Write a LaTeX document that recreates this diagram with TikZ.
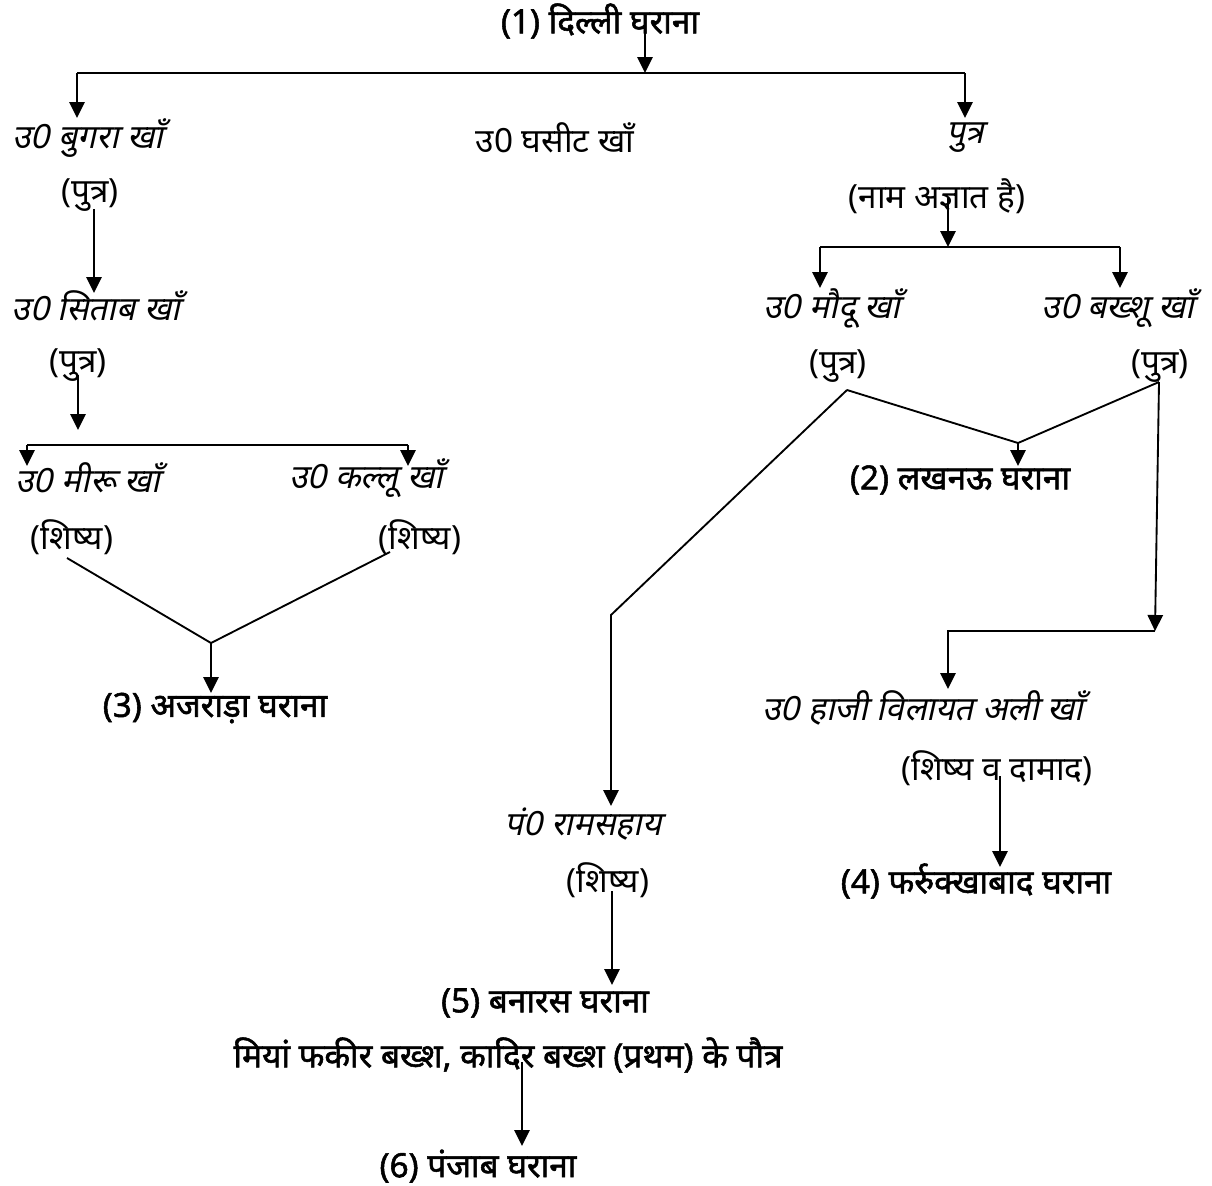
\documentclass[tikz,border=0pt]{standalone}
\usepackage{fontspec}
\usetikzlibrary{arrows.meta}
\newfontfamily\dev[Script=Devanagari]{Noto Sans}
\newfontfamily\devit[Script=Devanagari,FakeSlant=0.22]{Noto Sans}
\newfontfamily\devbf[Script=Devanagari,FakeBold=1.6]{Noto Sans}
\tikzset{
  every node/.style={inner sep=0pt},
  reg/.style={font=\dev\fontsize{25}{28}\selectfont},
  ital/.style={font=\devit\fontsize{25}{28}\selectfont},
  bold/.style={font=\devbf\fontsize{25}{28}\selectfont},
  ln/.style={line width=1.4pt},
  arr/.style={line width=1.4pt,-{Triangle[length=12pt,width=11.5pt]}}
}
\begin{document}
\begin{tikzpicture}[x=0.75pt,y=-0.75pt]
\fill[white] (0,0) rectangle (1212,1185);
\useasboundingbox (0,0) rectangle (1212,1185);
% nodes
\node[bold] (n1) at (600,21) {(1) दिल्ली घराना};
\node[ital] (bugra) at (88,138) {उ0 बुगरा खाँ};
\node[reg] (ghasit) at (555,138) {उ0 घसीट खाँ};
\node[ital] (putra) at (965,138) {पुत्र};
\node[reg] (p1) at (90,195) {(पुत्र)};
\node[ital] (sitab) at (96,306) {उ0 सिताब खाँ};
\node[reg] (p2) at (78,365) {(पुत्र)};
\node[ital] (miru) at (88,478) {उ0 मीरू खाँ};
\node[ital] (kallu) at (366,478) {उ0 कल्लू खाँ};
\node[reg] (s1) at (72,537) {(शिष्य)};
\node[reg] (s2) at (420,537) {(शिष्य)};
\node[bold] (g3) at (215,708) {(3) अजराड़ा घराना};
\node[reg] (naam) at (937,196) {(नाम अज्ञात है)};
\node[ital] (maudu) at (832,308) {उ0 मौदू खाँ};
\node[ital] (bakhshu) at (1118,308) {उ0 बख्शू खाँ};
\node[reg] (p3) at (838,366) {(पुत्र)};
\node[reg] (p4) at (1160,366) {(पुत्र)};
\node[bold] (g2) at (960,480) {(2) लखनऊ घराना};
\node[ital] (haji) at (923,708) {उ0 हाजी विलायत अली खाँ};
\node[reg] (sd) at (997,768) {(शिष्य व दामाद)};
\node[bold] (g4) at (976,881) {(4) फर्रुक्खाबाद घराना};
\node[ital] (ram) at (583,824) {पं0 रामसहाय};
\node[reg] (s3) at (608,880) {(शिष्य)};
\node[bold] (g5) at (545,1003) {(5) बनारस घराना};
\node[bold] (miyan) at (508,1055) {मियां फकीर बख्श, कादिर बख्श (प्रथम) के पौत्र};
\node[bold] (g6) at (478,1166) {(6) पंजाब घराना};
% coordinates
\coordinate (a0) at (645,30);
\coordinate (a1) at (645,73);
\coordinate (hl) at (77,73);
\coordinate (hr) at (965,73);
\coordinate (hlt) at (77,118);
\coordinate (hrt) at (965,118);
\coordinate (b0) at (94,209);
\coordinate (b1) at (94,293);
\coordinate (c0) at (78,375);
\coordinate (c1) at (78,430);
\coordinate (dl) at (27,445);
\coordinate (dr) at (408,445);
\coordinate (dlt) at (27,466);
\coordinate (drt) at (408,466);
\coordinate (e1) at (67,558);
\coordinate (e2) at (390,552);
\coordinate (ej) at (211,643);
\coordinate (et) at (211,693);
\coordinate (f0) at (948,198);
\coordinate (f1) at (948,247);
\coordinate (fl) at (820,247);
\coordinate (fr) at (1120,247);
\coordinate (flt) at (820,288);
\coordinate (frt) at (1120,288);
\coordinate (g0) at (847,390);
\coordinate (g1) at (1159,382);
\coordinate (gj) at (1018,443);
\coordinate (gt) at (1018,466);
\coordinate (k1) at (611,615);
\coordinate (kt) at (611,806);
\coordinate (m1) at (1155,631);
\coordinate (m2) at (948,631);
\coordinate (mt) at (948,689);
\coordinate (q0) at (1000,776);
\coordinate (qt) at (1000,867);
\coordinate (r0) at (612,891);
\coordinate (rt) at (612,985);
\coordinate (u0) at (522,1062);
\coordinate (ut) at (522,1146);
% connectors
\draw[arr] (a0) -- (a1);
\draw[ln] (hl) -- (hr);
\draw[arr] (hl) -- (hlt);
\draw[arr] (hr) -- (hrt);
\draw[arr] (b0) -- (b1);
\draw[arr] (c0) -- (c1);
\draw[ln] (dl) -- (dr);
\draw[arr] (dl) -- (dlt);
\draw[arr] (dr) -- (drt);
\draw[ln] (e1) -- (ej) -- (e2);
\draw[arr] (ej) -- (et);
\draw[arr] (f0) -- (f1);
\draw[ln] (fl) -- (fr);
\draw[arr] (fl) -- (flt);
\draw[arr] (fr) -- (frt);
\draw[ln] (g0) -- (gj) -- (g1);
\draw[arr] (gj) -- (gt);
\draw[arr] (g0) -- (k1) -- (kt);
\draw[arr] (g1) -- (m1);
\draw[arr] (m1) -- (m2) -- (mt);
\draw[arr] (q0) -- (qt);
\draw[arr] (r0) -- (rt);
\draw[arr] (u0) -- (ut);
\end{tikzpicture}
\end{document}
